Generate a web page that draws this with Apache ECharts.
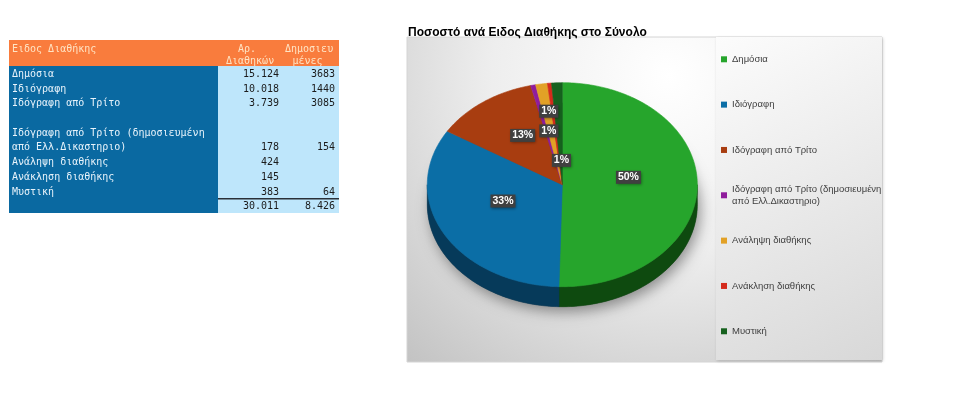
<!DOCTYPE html>
<html><head><meta charset="utf-8">
<script src="https://cdn.jsdelivr.net/npm/echarts@6/dist/echarts.min.js"></script>
<style>html,body{margin:0;padding:0;background:#fff}#c{width:960px;height:396px}</style>
</head><body><div id="c"></div>
<script>
// ---------- data ----------
const chartTitle = 'Ποσοστό ανά Ειδος Διαθήκης στο Σύνολο';
const categories = ['Δημόσια', 'Ιδιόγραφη', 'Ιδόγραφη από Τρίτο',
  'Ιδόγραφη από Τρίτο (δημοσιευμένη\nαπό Ελλ.Δικαστηριο)',
  'Ανάληψη διαθήκης', 'Ανάκληση διαθήκης', 'Μυστική'];
const counts = [15124, 10018, 3739, 178, 424, 145, 383];
const published = [3683, 1440, 3085, 154, null, null, 64];
const tableHeaderLabel = 'Ειδος Διαθήκης';
const tableHeaderCount = ['Αρ.', 'Διαθηκών'];
const tableHeaderPublished = ['Δημοσιευ', 'μένες'];
const tableLabels = ['Δημόσια', 'Ιδιόγραφη', 'Ιδόγραφη από Τρίτο',
  '\nΙδόγραφη από Τρίτο (δημοσιευμένη\nαπό Ελλ.Δικαστηριο)',
  'Ανάληψη διαθήκης', 'Ανάκληση διαθήκης', 'Μυστική'];

// ---------- styles ----------
const sliceColors = ['#26a52c', '#0b6ea6', '#a83d10', '#8f1d9c', '#e2a126', '#d42a1c', '#16611e'];
const sideColors  = ['#0e4a0f', '#063a5a', '#5a2008', '#4a0e52', '#7a5510', '#701510', '#0a3510'];
const labelRadius = [0.49, 0.5, 0.5, 0.46, 0.65, 0.3, 0.16];
const labelVisible = [true, true, true, true, true, false, true];
const PIE = {cx: 562.3, cy: 184.7, rx: 135, ry: 102, depth: 20, labelShiftY: -8};
const MONO = '10px "DejaVu Sans Mono"';

const total = counts.reduce((a, b) => a + b, 0);
const totalPublished = published.reduce((a, b) => a + (b || 0), 0);
const startAngles = [];
(function () { let acc = 0; counts.forEach(v => { startAngles.push(acc / total * 360); acc += v; }); })();
// whole-number percentages summing to 100 (largest remainder)
const pcts = (function () {
  const raw = counts.map(v => v / total * 100);
  const fl = raw.map(Math.floor);
  let left = 100 - fl.reduce((a, b) => a + b, 0);
  const order = raw.map((r, i) => [r - fl[i], i]).sort((a, b) => b[0] - a[0]);
  for (let k = 0; k < left; k++) fl[order[k][1]] += 1;
  return fl;
})();

function fmtThousands(n) { return String(n).replace(/\B(?=(\d{3})+(?!\d))/g, '.'); }
function pt(deg, dy) {
  const r = deg * Math.PI / 180;
  return [PIE.cx + PIE.rx * Math.sin(r), PIE.cy - PIE.ry * Math.cos(r) + (dy || 0)];
}
function arc(a1, a2, dy) {
  const n = Math.max(2, Math.ceil(a2 - a1) + 1);
  const pts = [];
  for (let i = 0; i < n; i++) pts.push(pt(a1 + (a2 - a1) * i / (n - 1), dy));
  return pts;
}
function sliceRender(idx) {
  return function (params, api) {
    const v = api.value(0);
    const a1 = startAngles[idx];
    const a2 = a1 + v / total * 360;
    const children = [];
    const s1 = Math.max(a1, 90), s2 = Math.min(a2, 270);
    if (s2 > s1) {
      const top = arc(s1, s2, 0);
      const bot = arc(s1, s2, PIE.depth).reverse();
      children.push({type: 'polygon', z2: 1, shape: {points: top.concat(bot)},
        style: {fill: sideColors[idx], stroke: sideColors[idx], lineWidth: 0.6}});
    }
    children.push({type: 'polygon', z2: 2, shape: {points: [[PIE.cx, PIE.cy]].concat(arc(a1, a2, 0))},
      style: {fill: sliceColors[idx], stroke: sliceColors[idx], lineWidth: 0.6}});
    return {type: 'group', children: children};
  };
}

// ---------- table (graphic) ----------
const T = {x: 9, y: 40, w: 330, headH: 26, split: 218, bottom: 213, line0: 74.3, pitch: 14.71,
  c1Right: 279, c2Right: 335};
const graphics = [];
graphics.push({type: 'rect', shape: {x: T.x, y: T.y, width: T.w, height: T.headH}, style: {fill: '#f97c3d'}});
graphics.push({type: 'rect', shape: {x: T.x, y: T.y + T.headH, width: T.split - T.x, height: T.bottom - T.y - T.headH}, style: {fill: '#0a69a1'}});
graphics.push({type: 'rect', shape: {x: T.split, y: T.y + T.headH, width: T.x + T.w - T.split, height: T.bottom - T.y - T.headH}, style: {fill: '#bee6fb'}});
const headTxt = {fill: '#ffe4c4', font: MONO, verticalAlign: 'middle'};
graphics.push({type: 'text', style: Object.assign({text: tableHeaderLabel, x: 12, y: 49, align: 'left'}, headTxt)});
graphics.push({type: 'text', style: Object.assign({text: tableHeaderCount[0], x: 238, y: 49, align: 'left'}, headTxt)});
graphics.push({type: 'text', style: Object.assign({text: tableHeaderCount[1], x: 226, y: 61.5, align: 'left'}, headTxt)});
graphics.push({type: 'text', style: Object.assign({text: tableHeaderPublished[0], x: 285, y: 49, align: 'left'}, headTxt)});
graphics.push({type: 'text', style: Object.assign({text: tableHeaderPublished[1], x: 292.5, y: 61.5, align: 'left'}, headTxt)});
(function () {
  let line = 0;
  tableLabels.forEach((lab, i) => {
    const parts = lab.split('\n');
    parts.forEach((p, j) => {
      if (p) graphics.push({type: 'text', style: {text: p, x: 12, y: T.line0 + T.pitch * (line + j), align: 'left', verticalAlign: 'middle', fill: '#e8f3fb', font: MONO}});
    });
    const last = line + parts.length - 1;
    const yy = T.line0 + T.pitch * last;
    graphics.push({type: 'text', style: {text: fmtThousands(counts[i]), x: T.c1Right, y: yy, align: 'right', verticalAlign: 'middle', fill: '#1b1b1b', font: MONO}});
    if (published[i] != null) graphics.push({type: 'text', style: {text: String(published[i]), x: T.c2Right, y: yy, align: 'right', verticalAlign: 'middle', fill: '#1b1b1b', font: MONO}});
    line += parts.length;
  });
  const yt = T.line0 + T.pitch * line;
  graphics.push({type: 'line', shape: {x1: T.split, y1: yt - 8, x2: T.x + T.w, y2: yt - 8}, style: {stroke: '#2a3038', lineWidth: 1.5}});
  graphics.push({type: 'text', style: {text: fmtThousands(total), x: T.c1Right, y: yt, align: 'right', verticalAlign: 'middle', fill: '#1b1b1b', font: MONO}});
  graphics.push({type: 'text', style: {text: fmtThousands(totalPublished), x: T.c2Right, y: yt, align: 'right', verticalAlign: 'middle', fill: '#1b1b1b', font: MONO}});
})();

// chart backgrounds
graphics.push({type: 'rect', z: -10, shape: {x: 407, y: 37, width: 475, height: 325},
  style: {stroke: '#d4d4d4', lineWidth: 1, fill: {type: 'radial', x: 0.55, y: 0.12, r: 1.2,
    colorStops: [{offset: 0, color: '#ffffff'}, {offset: 0.45, color: '#eeeeee'}, {offset: 1, color: '#c2c2c2'}]}}});
graphics.push({type: 'rect', z: -9, shape: {x: 716, y: 37, width: 166, height: 323},
  style: {fill: {type: 'linear', x: 0, y: 0, x2: 1, y2: 1,
    colorStops: [{offset: 0, color: '#fcfcfc'}, {offset: 1, color: '#d8d8d8'}]},
    shadowBlur: 3, shadowColor: 'rgba(0,0,0,0.18)', shadowOffsetX: 1, shadowOffsetY: 1}});
// pie drop shadow
graphics.push({type: 'ellipse', z: -5, shape: {cx: PIE.cx, cy: PIE.cy + PIE.depth, rx: PIE.rx, ry: PIE.ry},
  style: {fill: '#555', shadowBlur: 14, shadowColor: 'rgba(0,0,0,0.4)', shadowOffsetX: 3, shadowOffsetY: 5}});

// ---------- chart ----------
const chart = echarts.init(document.getElementById('c'), null, {renderer: 'canvas'});
const series = categories.map((name, i) => ({
  type: 'custom', name: name, coordinateSystem: 'none', silent: true, z: 2,
  itemStyle: {color: sliceColors[i]},
  data: [[counts[i]]], renderItem: sliceRender(i)
}));
series.push({
  type: 'custom', name: 'labels', coordinateSystem: 'none', silent: true, z: 6,
  data: counts.map(v => [v]),
  renderItem: function (params, api) {
    const i = params.dataIndex;
    const v = api.value(0);
    if (!labelVisible[i]) return null;
    const mid = startAngles[i] + v / total * 180;
    const rad = mid * Math.PI / 180;
    const r = labelRadius[i];
    const x = PIE.cx + r * PIE.rx * Math.sin(rad);
    const y = PIE.cy + PIE.labelShiftY - r * PIE.ry * Math.cos(rad);
    return {type: 'text', style: {text: pcts[i] + '%', x: x, y: y, align: 'center', verticalAlign: 'middle',
      fill: '#ffffff', font: 'bold 10.5px "Liberation Sans"', backgroundColor: '#404040', padding: [1, 2],
      shadowBlur: 3, shadowColor: 'rgba(0,0,0,0.45)', shadowOffsetX: 1, shadowOffsetY: 1}};
  }
});
const legends = categories.map((name, i) => {
  const multi = name.indexOf('\n') >= 0;
  const center = 59.3 + 45.33 * i;
  return {
    data: [name], orient: 'vertical', left: 721, top: center - (multi ? 18 : 6), padding: 0,
    itemWidth: 6, itemHeight: 6, icon: 'rect', selectedMode: false,
    textStyle: {fontSize: 9.5, fontFamily: 'Liberation Sans', color: '#404040', lineHeight: 12,
      padding: multi ? [12, 0, 0, 0] : 0}
  };
});
chart.setOption({
  animation: false,
  title: {text: chartTitle, left: 408, top: 27, padding: 0,
    textStyle: {fontSize: 12, fontWeight: 'bold', fontFamily: 'Liberation Sans', color: '#000'}},
  legend: legends,
  graphic: graphics,
  series: series
});
</script></body></html>
